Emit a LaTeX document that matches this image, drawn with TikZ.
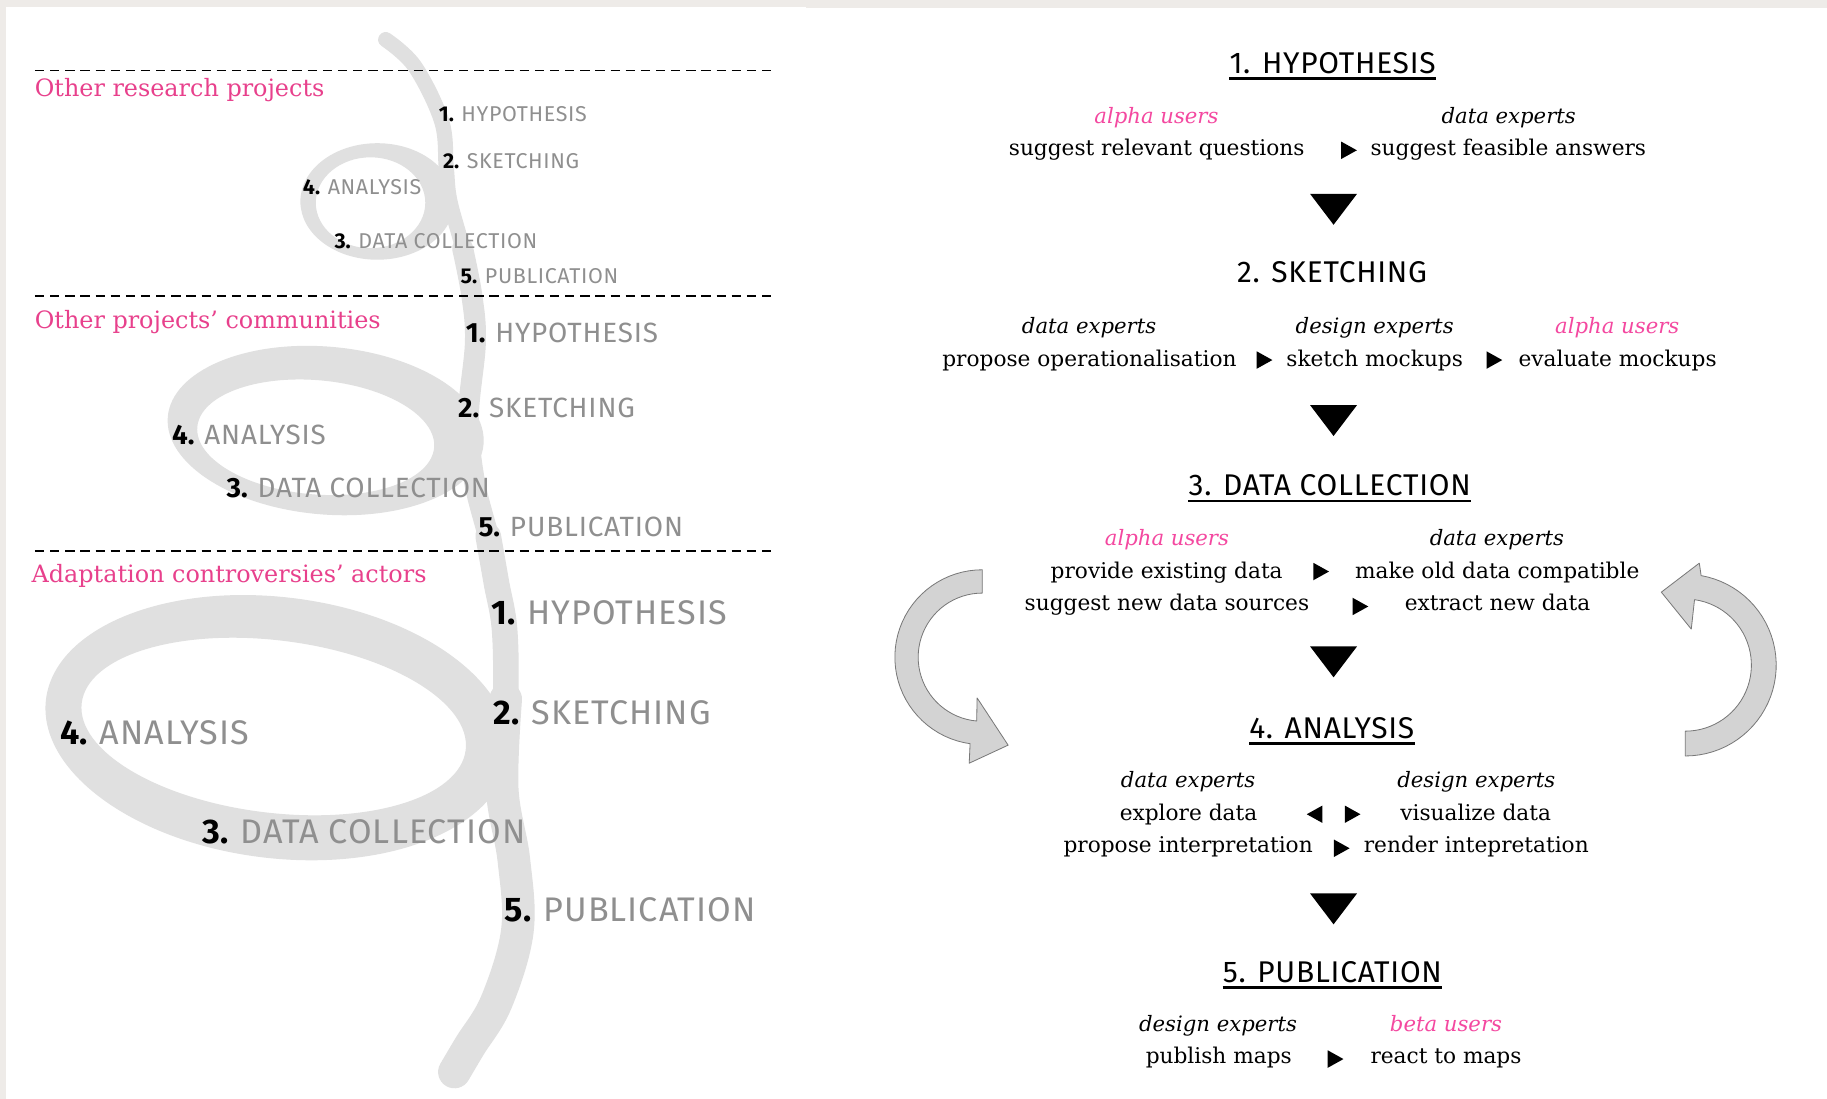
\documentclass[tikz,border=0pt]{standalone}
\usepackage{fontspec}
\setmainfont{DejaVu Serif}
\newfontfamily\sansf{Fira Sans}
\newfontfamily\sansgrey[LetterSpace=3]{Fira Sans}
\newfontfamily\sanstitle[LetterSpace=2.5]{Fira Sans}
\definecolor{framec}{RGB}{238,235,232}
\definecolor{swirlc}{RGB}{224,224,224}
\definecolor{capgrey}{RGB}{143,143,143}
\definecolor{pinkA}{RGB}{232,64,140}
\definecolor{pinkB}{RGB}{244,72,160}
\definecolor{arrowfill}{RGB}{211,211,211}
\definecolor{arrowline}{RGB}{120,120,120}
\newcommand\stg[2]{{\sansf\bfseries\color{black}#1} {\sansgrey\color{capgrey}#2}}
\tikzset{
  swirl/.style={draw=swirlc, line cap=round, line join=round},
  ring/.style={fill=swirlc, even odd rule},
  pinklab/.style={anchor=base west, inner sep=0pt, text=pinkA, font=\fontsize{20.5}{24}\selectfont},
  capS/.style={anchor=base west, inner sep=0pt, font=\sansf\fontsize{18.4}{22}\selectfont},
  capM/.style={anchor=base west, inner sep=0pt, font=\sansf\fontsize{23.9}{28}\selectfont},
  capL/.style={anchor=base west, inner sep=0pt, font=\sansf\fontsize{29.3}{34}\selectfont},
  stagetitle/.style={anchor=base, inner sep=0pt, font=\sanstitle\fontsize{25.7}{30}\selectfont},
  role/.style={anchor=base, inner sep=0pt, font=\itshape\fontsize{18.2}{22}\selectfont},
  rolep/.style={role, text=pinkB},
  body/.style={anchor=base, inner sep=0pt, font=\fontsize{18.6}{22}\selectfont},
  uline/.style={line width=2.2pt},
  dashline/.style={line width=1.6pt, dash pattern=on 8pt off 5pt},
  bigarrow/.style={fill=arrowfill, draw=arrowline, line width=0.7pt, line join=round},
}
\begin{document}
\begin{tikzpicture}[x=1pt,y=-1pt]
\useasboundingbox (0,0) rectangle (1568,943);
% background
\fill[framec] (0,0) rectangle (1568,943);
\fill[white] (5,5.7) rectangle (691.6,943);
\fill[white] (691.6,6.6) rectangle (1568,943);

% ---------------- swirl ----------------
\fill[ring] (323.8,172.9) ellipse[x radius=66, y radius=50]
            (318,174) ellipse[x radius=47, y radius=39];
\fill[ring, rotate around={-5:(279.5,369.5)}] (279.5,369.5) ellipse[x radius=136, y radius=72]
            (271.5,376) ellipse[x radius=102, y radius=49];
\fill[ring, rotate around={-7:(238,624.5)}] (238,624.5) ellipse[x radius=200, y radius=112]
            (234.8,623.9) ellipse[x radius=166, y radius=74];
\draw[swirl, line width=13pt] plot[smooth, tension=0.6] coordinates {(331,34) (356,57) (379,104) (383,144) (386,172) (397,213) (405,254)};
\draw[swirl, line width=18pt] plot[smooth, tension=0.6] coordinates {(397,213) (405,254) (408,294) (402,358) (407,412) (419,460) (425,490)};
\draw[swirl, line width=22pt] plot[smooth, tension=0.6] coordinates {(419,460) (426,500) (433,540) (434,600) (431,677)};
\draw[swirl, line width=28pt] plot[smooth, tension=0.6] coordinates {(434,600) (431,677) (441,738) (444,799) (426,860) (403,898) (390,920)};

% ---------------- dashed separators ----------------
\coordinate (d1a) at (30,60.5);  \coordinate (d1b) at (665,60.5);
\coordinate (d2a) at (30,254);   \coordinate (d2b) at (665,254);
\coordinate (d3a) at (30,473.2); \coordinate (d3b) at (665,473.2);
\draw[dashline] (d1a) -- (d1b);
\draw[dashline] (d2a) -- (d2b);
\draw[dashline] (d3a) -- (d3b);

% ---------------- left panel labels ----------------
\node[pinklab] (lab1) at (29.7,82.9) {Other research projects};
\node[pinklab] (lab2) at (29.7,281.7) {Other projects’ communities};
\node[pinklab] (lab3) at (27,499.5) {Adaptation controversies’ actors};

\node[capS] (s1h) at (376.4,104.3) {\stg{1.}{HYPOTHESIS}};
\node[capS] (s1s) at (380,144.3) {\stg{2.}{SKETCHING}};
\node[capS] (s1a) at (259.8,167.1) {\stg{4.}{ANALYSIS}};
\node[capS] (s1d) at (286.9,212.9) {\stg{3.}{DATA COLLECTION}};
\node[capS] (s1p) at (395.2,242.9) {\stg{5.}{PUBLICATION}};

\node[capM] (s2h) at (399.6,294) {\stg{1.}{HYPOTHESIS}};
\node[capM] (s2s) at (393,358) {\stg{2.}{SKETCHING}};
\node[capM] (s2a) at (147.6,381.7) {\stg{4.}{ANALYSIS}};
\node[capM] (s2d) at (194.3,426.6) {\stg{3.}{DATA COLLECTION}};
\node[capM] (s2p) at (410.5,460.3) {\stg{5.}{PUBLICATION}};

\node[capL] (s3h) at (421.4,536.2) {\stg{1.}{HYPOTHESIS}};
\node[capL] (s3s) at (423.6,621.7) {\stg{2.}{SKETCHING}};
\node[capL] (s3a) at (51.5,639.1) {\stg{4.}{ANALYSIS}};
\node[capL] (s3d) at (173.8,723.7) {\stg{3.}{DATA COLLECTION}};
\node[capL] (s3p) at (433.2,790.8) {\stg{5.}{PUBLICATION}};

% ---------------- right panel ----------------
\node[stagetitle] (t1) at (1143.7,63.4) {1. HYPOTHESIS};
\node[stagetitle] (t2) at (1143.2,242.3) {2. SKETCHING};
\node[stagetitle] (t3) at (1141.2,425.6) {3. DATA COLLECTION};
\node[stagetitle] (t4) at (1143,633.9) {4. ANALYSIS};
\node[stagetitle] (t5) at (1143.5,843.3) {5. PUBLICATION};
\foreach \t in {t1,t3,t4,t5}
  \draw[uline] ([yshift=-4.2pt]\t.base west) -- ([yshift=-4.2pt]\t.base east);

% down triangles
\foreach \y in {166.3,347.6,554.7,766.7}
  \fill (1124.3,\y) -- (1164.7,\y) -- (1144.5,\y+26.6) -- cycle;

% hypothesis
\node[rolep] (h1r) at (992.5,106.3) {alpha users};
\node[role]  (h2r) at (1294.8,106.3) {data experts};
\node[body]  (h1b) at (992.7,133.7) {suggest relevant questions};
\node[body]  (h2b) at (1294.5,133.7) {suggest feasible answers};

% sketching
\node[role]  (k1r) at (934.7,286.6) {data experts};
\node[role]  (k2r) at (1179.8,286.6) {design experts};
\node[rolep] (k3r) at (1388,286.6) {alpha users};
\node[body]  (k1b) at (935,314.3) {propose operationalisation};
\node[body]  (k2b) at (1179.8,314.3) {sketch mockups};
\node[body]  (k3b) at (1388.3,314.3) {evaluate mockups};

% data collection
\node[rolep] (c1r) at (1001.5,468.2) {alpha users};
\node[role]  (c2r) at (1284.7,468.2) {data experts};
\node[body]  (c1b) at (1001.3,496.7) {provide existing data};
\node[body]  (c2b) at (1285,496.7) {make old data compatible};
\node[body]  (c3b) at (1001.5,523.9) {suggest new data sources};
\node[body]  (c4b) at (1285.2,523.9) {extract new data};

% analysis
\node[role]  (a1r) at (1019.7,676.2) {data experts};
\node[role]  (a2r) at (1267,676.2) {design experts};
\node[body]  (a1b) at (1020,703.9) {explore data};
\node[body]  (a2b) at (1266.5,703.9) {visualize data};
\node[body]  (a3b) at (1019.7,731.5) {propose interpretation};
\node[body]  (a4b) at (1267,731.5) {render intepretation};

% publication
\node[role]  (p1r) at (1045.3,885.3) {design experts};
\node[rolep] (p2r) at (1241,885.3) {beta users};
\node[body]  (p1b) at (1046,913) {publish maps};
\node[body]  (p2b) at (1241,913) {react to maps};

% small right-pointing triangles
\foreach \x/\y in {1157.5/129, 1085/309, 1282.3/309, 1133.6/490.5, 1167.3/520.5, 1160.6/698.8, 1151.3/728, 1146/908.9}
  \fill (\x-6.5,\y-7.5) -- (\x+7,\y) -- (\x-6.5,\y+7.5) -- cycle;
% left-pointing
\fill (1128.5+6.5,698.8-7.5) -- (1128.5-7,698.8) -- (1128.5+6.5,698.8+7.5) -- cycle;

% ---------------- curved block arrows ----------------
\begin{scope}[shift={(843,564)}]
  \draw[bigarrow] plot[domain=270:98, samples=40] ({75*cos(\x)},{75*sin(\x)})
    -- (831.8-843,655-564) -- (865.2-843,639.5-564) -- (838.6-843,599-564)
    -- plot[domain=95:270, samples=40] ({55*cos(\x)},{55*sin(\x)}) -- cycle;
\end{scope}
\begin{scope}[shift={(1446.4,570.8)}]
  \draw[bigarrow] plot[domain=90:-80, samples=40] ({78*cos(\x)},{78*sin(\x)})
    -- (1458.4-1446.4,483.3-570.8) -- (1425.8-1446.4,508.2-570.8) -- (1451.5-1446.4,539.9-570.8)
    -- plot[domain=-82:90, samples=40] ({56.7*cos(\x)},{56.7*sin(\x)}) -- cycle;
\end{scope}
\end{tikzpicture}
\end{document}
